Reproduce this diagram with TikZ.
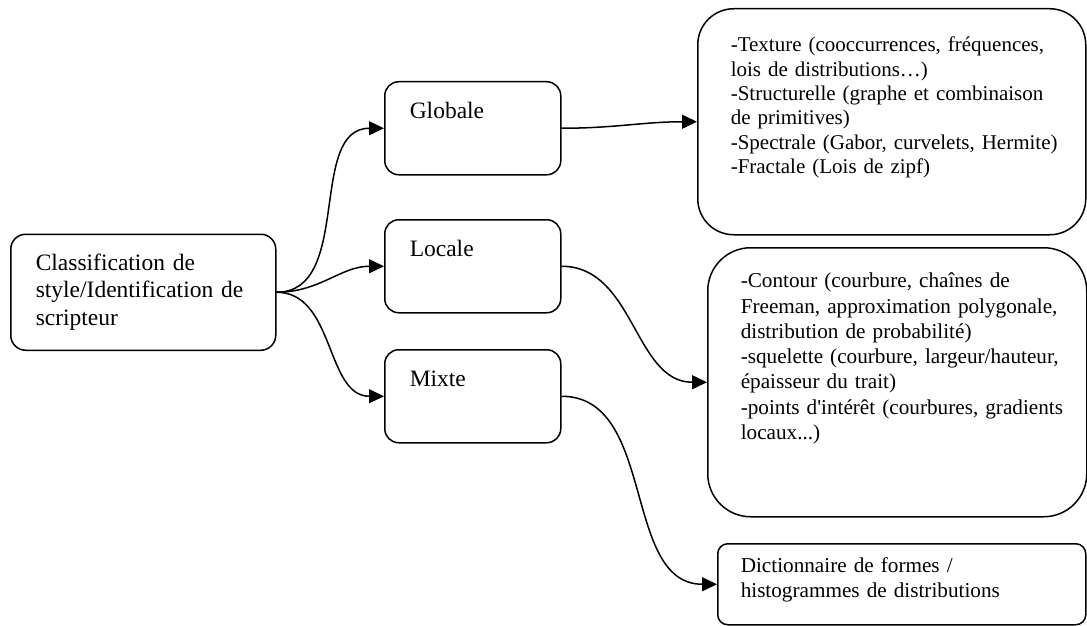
\documentclass[tikz,border=0pt]{standalone}
\usepackage{fontspec}
\setmainfont{Liberation Serif}
\usetikzlibrary{arrows.meta}
\begin{document}
\begin{tikzpicture}[x=1pt,y=-1pt,line width=1.5pt]
        \tikzstyle{bloc}=[draw=black,anchor=north west,align=left,inner ysep=0pt]
        \tikzstyle{milieu}=[bloc,rounded corners=14pt,inner xsep=25pt,text width=126pt,text height=37pt,text depth=56pt,font=\fontsize{23.5}{27.7}\selectfont]
        \tikzstyle{edge}=[draw,-{Triangle[length=15pt,width=14pt]}]
        \useasboundingbox (0,0) rectangle (1087,626);
       \begin{scope}
         \node [bloc,rounded corners=15pt,inner xsep=25pt,text width=215pt,text height=36pt,text depth=80pt,font=\fontsize{23.5}{27.7}\selectfont] (classif) at (10,233.5) {Classification de\\style/Identification de\\scripteur};
         \node [milieu] (glob) at (384,81) {Globale};
         \node [milieu] (loc) at (384,219) {Locale};
         \node [milieu] (mix) at (384,349) {Mixte};
         \node [bloc,rounded corners=36pt,inner xsep=33pt,text width=322pt,text height=43pt,text depth=183pt,font=\fontsize{21}{24.4}\selectfont] (texture) at (697,8) {\mbox{-Texture (cooccurrences, fréquences,}\\lois de distributions…)\\\mbox{-Structurelle (graphe et combinaison}\\de primitives)\\\mbox{-Spectrale (Gabor, curvelets, Hermite)}\\-Fractale (Lois de zipf)};
         \node [bloc,rounded corners=43pt,inner xsep=33pt,text width=313pt,text height=40pt,text depth=229pt,font=\fontsize{21.2}{25.3}\selectfont] (contour) at (707,247) {-Contour (courbure, chaînes de\\\mbox{Freeman, approximation polygonale,}\\distribution de probabilité)\\\mbox{-squelette (courbure, largeur/hauteur,}\\épaisseur du trait)\\\mbox{-points d\textquotesingle intérêt (courbures, gradients}\\locaux...)};
         \node [bloc,rounded corners=10pt,inner xsep=23pt,text width=322pt,text height=29pt,text depth=52pt,font=\fontsize{21.2}{24.5}\selectfont] (dico) at (717,543) {Dictionnaire de formes /\\histogrammes de distributions};
         \path[edge] (classif.east) to[out=0,in=180] (glob.west);
         \path[edge] (classif.east) to[out=0,in=180] (loc.west);
         \path[edge] (classif.east) to[out=0,in=180] (mix.west);
         \path[edge] (glob.east) to[out=0,in=180] (texture.west);
         \path[edge] (loc.east) to[out=0,in=180] (contour.west);
         \path[edge] (mix.east) to[out=0,in=180] (dico.west);
        \end{scope}
      \end{tikzpicture}
\end{document}
